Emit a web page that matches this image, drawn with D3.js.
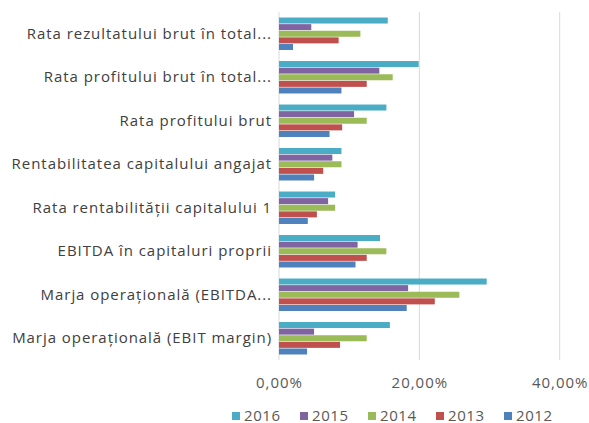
<!DOCTYPE html>
<html>
<head>
<meta charset="utf-8">
<script src="https://cdn.jsdelivr.net/npm/d3@7"></script>
<style>
  body { margin: 0; background: #fff; }
  svg text { font-family: "Open Sans", sans-serif; }
</style>
</head>
<body>
<script>
var categories = [
  "Rata rezultatului brut în total...",
  "Rata profitului brut în total...",
  "Rata profitului brut",
  "Rentabilitatea capitalului angajat",
  "Rata rentabilității capitalului 1",
  "EBITDA în capitaluri proprii",
  "Marja operațională (EBITDA...",
  "Marja operațională (EBIT margin)"
];
var years = ["2016", "2015", "2014", "2013", "2012"];
var colors = ["#4bacc6", "#8064a2", "#9bbb59", "#c0504d", "#4f81bd"];

var v2016 = [15.5, 19.9, 15.3, 8.9, 8.0, 14.4, 29.6, 15.8];
var v2015 = [4.6, 14.3, 10.7, 7.6, 7.0, 11.2, 18.4, 5.0];
var v2014 = [11.6, 16.2, 12.5, 8.9, 8.0, 15.3, 25.7, 12.5];
var v2013 = [8.5, 12.5, 9.0, 6.3, 5.4, 12.5, 22.2, 8.7];
var v2012 = [2.0, 8.9, 7.2, 5.0, 4.1, 10.9, 18.2, 4.0];
var ticks = [0, 20, 40];

var series = [v2016, v2015, v2014, v2013, v2012];

var w = 589, h = 423;
var padLeft = 279, padRight = 559.7, padTop = 12, padBottom = 360;

var svg = d3.select("body").append("svg")
  .attr("width", w).attr("height", h);

var xScale = d3.scaleLinear().domain([0, 40]).range([padLeft, padRight]);
var yScale = d3.scaleBand().domain(categories).range([padTop, padBottom]).paddingInner(0.24).paddingOuter(0.12);
var ySub = d3.scaleBand().domain(years).range([0, yScale.bandwidth()]);

// gridlines
svg.append("g").selectAll("line")
  .data(ticks).enter().append("line")
  .attr("x1", function(d){ return xScale(d); })
  .attr("x2", function(d){ return xScale(d); })
  .attr("y1", padTop).attr("y2", padBottom)
  .attr("stroke", "#d9d9d9").attr("stroke-width", 1);

// bars
years.forEach(function(yr, j) {
  svg.append("g").selectAll("rect")
    .data(series[j]).enter().append("rect")
    .attr("x", xScale(0))
    .attr("y", function(d, i){ return yScale(categories[i]) + ySub(yr) + 0.3; })
    .attr("width", function(d){ return xScale(d) - xScale(0); })
    .attr("height", ySub.bandwidth() - 0.6)
    .attr("fill", colors[j]);
});

// category labels
var yAxis = d3.axisLeft(yScale).tickSize(0).tickPadding(6);
var gy = svg.append("g").attr("transform", "translate(" + (padLeft - 1) + ",0)").call(yAxis);
gy.select(".domain").remove();
gy.selectAll("text").attr("font-size", 15).attr("fill", "#404040")
  .style("font-family", "'Open Sans', sans-serif")
  .style("letter-spacing", "0.95px");

// x axis tick labels
var xAxis = d3.axisBottom(xScale).tickValues(ticks).tickSize(0).tickPadding(17)
  .tickFormat(function(d){ return d3.format(".2f")(d).replace(".", ",") + "%"; });
var gx = svg.append("g").attr("transform", "translate(0," + padBottom + ")").call(xAxis);
gx.select(".domain").remove();
gx.selectAll("text").attr("font-size", 15).attr("fill", "#595959")
  .style("font-family", "'Open Sans', sans-serif")
  .style("letter-spacing", "1px");

// legend
var legend = svg.append("g").selectAll("g")
  .data(years).enter().append("g")
  .attr("transform", function(d, i){ return "translate(" + (232 + i * 68) + ",412)"; });
legend.append("rect").attr("width", 8).attr("height", 8)
  .attr("fill", function(d, i){ return colors[i]; });
legend.append("text").attr("x", 12).attr("y", 9)
  .attr("font-size", 15).attr("fill", "#595959")
  .style("letter-spacing", "0.6px")
  .text(function(d){ return d; });
</script>
</body>
</html>
